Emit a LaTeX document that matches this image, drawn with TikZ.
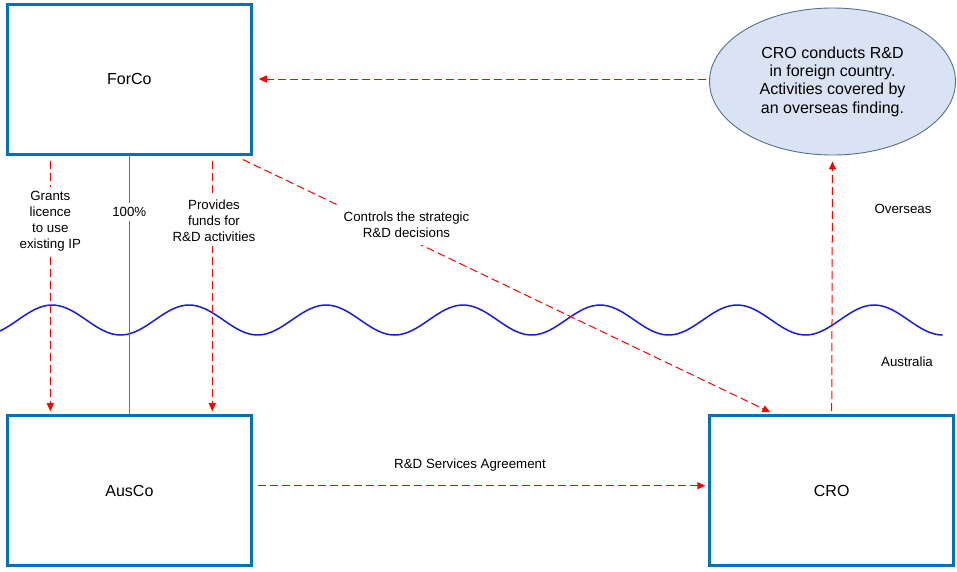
\documentclass[tikz,border=0pt]{standalone}
\usepackage{fontspec}
\setmainfont{Liberation Sans}
\usetikzlibrary{arrows.meta,calc,shapes.geometric}
\definecolor{boxblue}{RGB}{0,112,192}
\definecolor{ellfill}{RGB}{218,227,243}
\definecolor{elldraw}{RGB}{85,110,150}
\definecolor{thinblue}{RGB}{68,114,196}
\definecolor{wave}{RGB}{25,25,235}
\definecolor{redline}{RGB}{255,0,0}
\begin{document}
\begin{tikzpicture}[x=1pt,y=-1pt,
  entity/.style={draw=boxblue, line width=3pt, minimum width=243.8pt, minimum height=150pt, inner sep=0pt, font=\fontsize{16}{18.3}\selectfont},
  bubble/.style={ellipse, draw=elldraw, line width=0.9pt, fill=ellfill, minimum width=246pt, minimum height=147pt, inner sep=0pt, align=center, font=\fontsize{16}{18.3}\selectfont},
  redarr/.style={draw=redline, line width=1pt, dash pattern=on 8pt off 4pt, -{Triangle[length=8pt,width=7pt]}},
  lbl/.style={font=\fontsize{13.3}{16}\selectfont, align=center, inner sep=0pt},
  cutlbl/.style={lbl, fill=white, inner sep=4pt},
]
\useasboundingbox (0,0) rectangle (957,571);
% boxes
\node[entity] (forco) at (129.4,79) {ForCo};
\node[entity] (ausco) at (129.4,490.7) {AusCo};
\node[entity] (cro) at (831.7,490.7) {CRO};
\node[bubble] (el) at (832.5,81.5) {CRO conducts R\&D\\in foreign country.\\Activities covered by\\an overseas finding.};
% wave
\draw[wave, line width=1.5pt] plot[domain=0:942.6, samples=240, smooth] (\x, {320+15*cos(2.62774*(\x-120.6))});
% coordinates on boxes
\coordinate (fg) at ($(forco.south west)+(44.3,0)$);
\coordinate (ag) at ($(ausco.north west)+(44.3,0)$);
\coordinate (fp) at ($(forco.south west)+(206.3,0)$);
\coordinate (ap) at ($(ausco.north west)+(206.3,0)$);
\coordinate (fh) at ($(forco.south west)+(123.3,0)$);
\coordinate (ah) at ($(ausco.north west)+(123.3,0)$);
% ownership line
\draw[thinblue, line width=0.8pt] (fh) -- (ah);
\node[cutlbl] (pct) at (129.3,212) {100\%};
% grants licence
\draw[redarr, shorten <=5pt, shorten >=3pt] (fg) -- (ag);
\node[cutlbl] (grants) at (50.3,221.5) {Grants\\licence\\to use\\existing IP};
% provides funds
\draw[redarr, shorten <=5pt, shorten >=3pt] (fp) -- (ap);
\node[cutlbl] (funds) at (214,221) {Provides\\funds for\\R\&D activities};
% controls
\draw[redarr] ($(forco.south east)+(-10,4)$) -- ($(cro.north west)+(62,-2)$);
\node[cutlbl, inner sep=7.5pt] (ctrl) at (406.5,225) {Controls the strategic\\R\&D decisions};
% ellipse to forco
\draw[redarr, shorten <=3pt, shorten >=6pt] (el.west |- forco.east) -- (forco.east);
% cro to ellipse
\draw[redarr, shorten <=3pt, shorten >=6pt] (cro.north) -- (el.south);
% services agreement
\draw[redarr, shorten <=5pt, shorten >=3pt] ($(ausco.east)+(0,-5)$) -- ($(cro.west)+(0,-5)$);
\node[lbl] (rsa) at (470,465) {R\&D Services Agreement};
% region labels
\node[lbl] (over) at (903,208.5) {Overseas};
\node[lbl] (aus) at (907,362) {Australia};
\end{tikzpicture}
\end{document}
